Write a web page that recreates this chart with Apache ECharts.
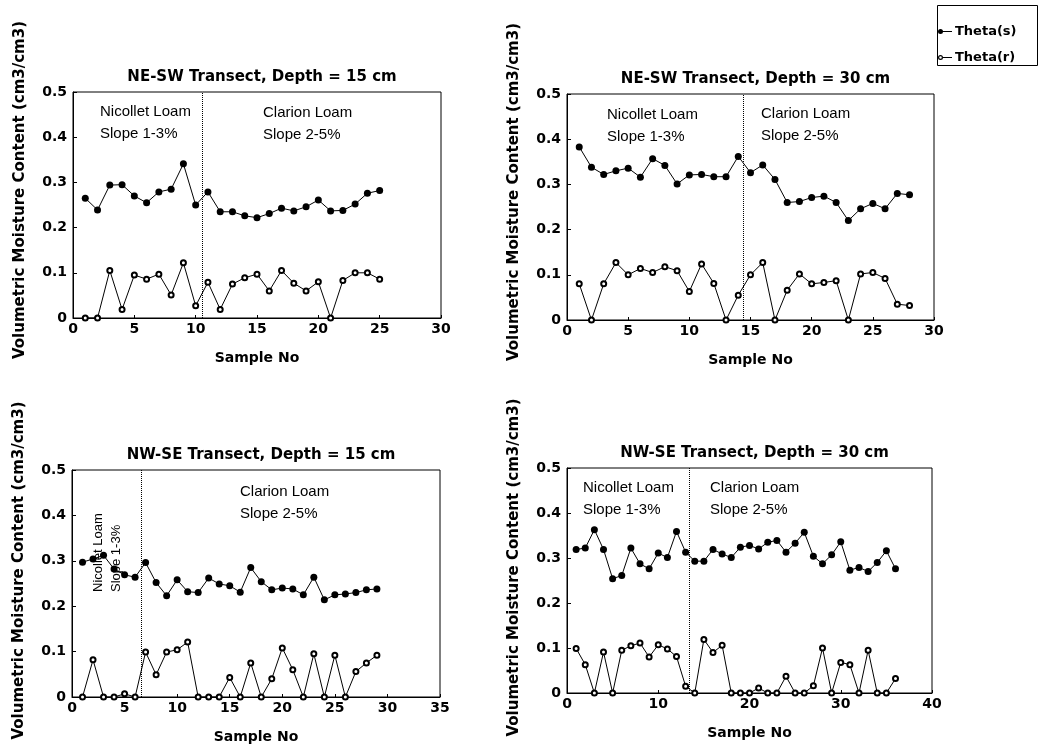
<!DOCTYPE html>
<html>
<head>
<meta charset="utf-8">
<script src="https://cdn.jsdelivr.net/npm/echarts@6/dist/echarts.min.js"></script>
<style>
  html, body { margin: 0; padding: 0; background: #fff; }
  #chart { width: 1039px; height: 755px; }
</style>
</head>
<body>
<div id="chart"></div>
<script>
// Volumetric moisture content (cm3/cm3), samples numbered 1..n along each transect
const neSw15ThetaS = [0.265, 0.239, 0.294, 0.295, 0.270, 0.255, 0.279, 0.285, 0.341, 0.250, 0.279, 0.235, 0.235, 0.226, 0.222, 0.231, 0.243, 0.237, 0.246, 0.261, 0.237, 0.238, 0.252, 0.276, 0.282];
const neSw15ThetaR = [0, 0, 0.105, 0.019, 0.095, 0.086, 0.097, 0.051, 0.122, 0.027, 0.079, 0.019, 0.075, 0.089, 0.097, 0.060, 0.105, 0.077, 0.060, 0.080, 0, 0.083, 0.100, 0.100, 0.086];

const neSw30ThetaS = [0.383, 0.338, 0.322, 0.330, 0.336, 0.316, 0.357, 0.342, 0.301, 0.321, 0.322, 0.317, 0.317, 0.362, 0.326, 0.343, 0.311, 0.260, 0.262, 0.271, 0.274, 0.260, 0.220, 0.246, 0.258, 0.246, 0.280, 0.277];
const neSw30ThetaR = [0.080, 0, 0.080, 0.127, 0.100, 0.114, 0.105, 0.118, 0.109, 0.063, 0.124, 0.081, 0, 0.055, 0.100, 0.127, 0, 0.066, 0.102, 0.080, 0.083, 0.087, 0, 0.102, 0.105, 0.092, 0.035, 0.032];

const nwSe15ThetaS = [0.297, 0.304, 0.312, 0.282, 0.269, 0.264, 0.296, 0.252, 0.223, 0.258, 0.232, 0.230, 0.262, 0.249, 0.245, 0.231, 0.285, 0.254, 0.236, 0.240, 0.238, 0.225, 0.264, 0.214, 0.225, 0.227, 0.230, 0.236, 0.238];
const nwSe15ThetaR = [0, 0.082, 0, 0, 0.007, 0, 0.099, 0.049, 0.099, 0.104, 0.121, 0, 0, 0, 0.043, 0, 0.075, 0, 0.040, 0.108, 0.060, 0, 0.095, 0, 0.092, 0, 0.056, 0.075, 0.092];

const nwSe30ThetaS = [0.319, 0.322, 0.363, 0.319, 0.254, 0.261, 0.322, 0.287, 0.276, 0.311, 0.301, 0.359, 0.313, 0.293, 0.293, 0.319, 0.309, 0.301, 0.324, 0.328, 0.320, 0.335, 0.339, 0.313, 0.333, 0.357, 0.304, 0.287, 0.307, 0.336, 0.273, 0.279, 0.270, 0.290, 0.316, 0.276];
const nwSe30ThetaR = [0.099, 0.063, 0, 0.091, 0, 0.095, 0.105, 0.111, 0.080, 0.107, 0.098, 0.081, 0.015, 0, 0.119, 0.090, 0.106, 0, 0, 0, 0.011, 0, 0, 0.037, 0, 0, 0.016, 0.100, 0, 0.068, 0.063, 0, 0.095, 0, 0, 0.032];

// Panel titles, x-axis extents and the sample position where the soil changes
const panelTitles = ['NE-SW Transect, Depth = 15 cm', 'NE-SW Transect, Depth = 30 cm', 'NW-SE Transect, Depth = 15 cm', 'NW-SE Transect, Depth = 30 cm'];
const xMaxima = [30, 30, 35, 40];
const xSteps = [5, 5, 5, 10];
const soilBoundary = [10.5, 14.4, 6.6, 13.4];
const yMax = 0.5;
const yStep = 0.1;
const seriesNames = ['Theta(s)', 'Theta(r)'];
const yAxisTitle = 'Volumetric Moisture Content (cm3/cm3)';
const xAxisTitle = 'Sample No';

const thetaS = [neSw15ThetaS, neSw30ThetaS, nwSe15ThetaS, nwSe30ThetaS];
const thetaR = [neSw15ThetaR, neSw30ThetaR, nwSe15ThetaR, nwSe30ThetaR];

// Plot box of each panel
const layout = [
  { left: 73,  top: 92,  width: 368, height: 226, nameShift: 30 },
  { left: 567, top: 94,  width: 367, height: 226, nameShift: 30 },
  { left: 72,  top: 470, width: 368, height: 227, nameShift: 26 },
  { left: 567, top: 468, width: 365, height: 225, nameShift: 26 }
];

const boldFont = 'DejaVu Sans';
const plainFont = 'Liberation Sans, Arial, sans-serif';

const toPairs = arr => arr.map((v, i) => [i + 1, v]);

const grids = [], xAxes = [], yAxes = [], series = [], titles = [];

layout.forEach((g, i) => {
  grids.push({
    left: g.left, top: g.top, width: g.width, height: g.height,
    show: true, borderColor: '#000', borderWidth: 1, backgroundColor: 'transparent'
  });
  titles.push({
    text: panelTitles[i],
    left: g.left + g.width / 2,
    top: g.top - 27,
    textAlign: 'center',
    textStyle: { fontFamily: boldFont, fontWeight: 'bold', fontSize: 15, color: '#000' }
  });
  xAxes.push({
    gridIndex: i, type: 'value', min: 0, max: xMaxima[i], interval: xSteps[i],
    axisLine: { onZero: false, lineStyle: { color: '#000', width: 1 } },
    axisTick: { inside: true, length: 3, lineStyle: { color: '#000' } },
    axisLabel: { color: '#000', fontFamily: boldFont, fontWeight: 'bold', fontSize: 14, margin: 4 },
    splitLine: { show: false },
    name: xAxisTitle, nameLocation: 'middle', nameGap: 33,
    nameTextStyle: { color: '#000', fontFamily: boldFont, fontWeight: 'bold', fontSize: 14 }
  });
  yAxes.push({
    gridIndex: i, type: 'value', min: 0, max: yMax, interval: yStep,
    axisLine: { lineStyle: { color: '#000', width: 1 } },
    axisTick: { inside: true, length: 4, lineStyle: { color: '#000' } },
    axisLabel: { color: '#000', fontFamily: boldFont, fontWeight: 'bold', fontSize: 14, margin: 6 },
    splitLine: { show: false },
    name: yAxisTitle, nameLocation: 'middle', nameGap: 45,
    nameTextStyle: {
      color: '#000', fontFamily: boldFont, fontWeight: 'bold', fontSize: 15,
      padding: [0, 0, 0, g.nameShift]
    }
  });
  series.push({
    name: seriesNames[0], type: 'line', xAxisIndex: i, yAxisIndex: i,
    data: toPairs(thetaS[i]), clip: false,
    symbol: 'circle', symbolSize: 7,
    itemStyle: { color: '#000' },
    lineStyle: { color: '#000', width: 1 },
    markLine: {
      silent: true, symbol: 'none', label: { show: false },
      lineStyle: { type: 'dotted', color: '#000', width: 1 },
      data: [{ xAxis: soilBoundary[i] }]
    }
  });
  series.push({
    name: seriesNames[1], type: 'line', xAxisIndex: i, yAxisIndex: i,
    data: toPairs(thetaR[i]), clip: false,
    symbol: 'emptyCircle', symbolSize: 5,
    itemStyle: { color: '#000', borderWidth: 1 },
    lineStyle: { color: '#000', width: 1 }
  });
});

// Legend icons: a short line with a filled / open circle at its left end
const iconFilled = 'path://M0,2.5 A2.5,2.5 0 1,1 5,2.5 A2.5,2.5 0 1,1 0,2.5 Z M4,2 L14,2 L14,3 L4,3 Z';
const iconOpen = 'path://M0,2.5 A2.5,2.5 0 1,1 5,2.5 A2.5,2.5 0 1,1 0,2.5 Z M1.2,2.5 A1.3,1.3 0 1,0 3.8,2.5 A1.3,1.3 0 1,0 1.2,2.5 Z M5,2 L14,2 L14,3 L5,3 Z';

const note = (text, x, y) => ({
  type: 'text', x, y, silent: true,
  style: { text, fontFamily: plainFont, fontSize: 15, lineHeight: 22, fill: '#000', verticalAlign: 'top', align: 'left' }
});

const chart = echarts.init(document.getElementById('chart'), null, { renderer: 'canvas' });
chart.setOption({
  animation: false,
  backgroundColor: '#fff',
  title: titles,
  grid: grids,
  xAxis: xAxes,
  yAxis: yAxes,
  series,
  legend: {
    data: [
      { name: seriesNames[0], icon: iconFilled, itemStyle: { color: '#000', borderWidth: 0 } },
      { name: seriesNames[1], icon: iconOpen, itemStyle: { color: '#000', borderWidth: 0 } }
    ],
    orient: 'vertical', left: 933, top: 20, itemWidth: 14, itemHeight: 5, itemGap: 13,
    selectedMode: false,
    textStyle: { fontFamily: boldFont, fontWeight: 'bold', fontSize: 13, color: '#000', padding: [0, 0, 0, -2] }
  },
  graphic: [
    { type: 'rect', silent: true, shape: { x: 937.5, y: 5.5, width: 100, height: 60 }, style: { fill: 'none', stroke: '#000', lineWidth: 1 } },
    note('Nicollet Loam\nSlope 1-3%', 100, 101),
    note('Clarion Loam\nSlope 2-5%', 263, 102),
    note('Nicollet Loam\nSlope 1-3%', 607, 104),
    note('Clarion Loam\nSlope 2-5%', 761, 103),
    note('Clarion Loam\nSlope 2-5%', 240, 481),
    {
      type: 'text', x: 89, y: 592, rotation: Math.PI / 2, silent: true,
      style: { text: 'Nicollet Loam\nSlope 1-3%', fontFamily: plainFont, fontSize: 13, lineHeight: 18, fill: '#000', verticalAlign: 'top', align: 'left' }
    },
    note('Nicollet Loam\nSlope 1-3%', 583, 477),
    note('Clarion Loam\nSlope 2-5%', 710, 477)
  ]
});
</script>
</body>
</html>
